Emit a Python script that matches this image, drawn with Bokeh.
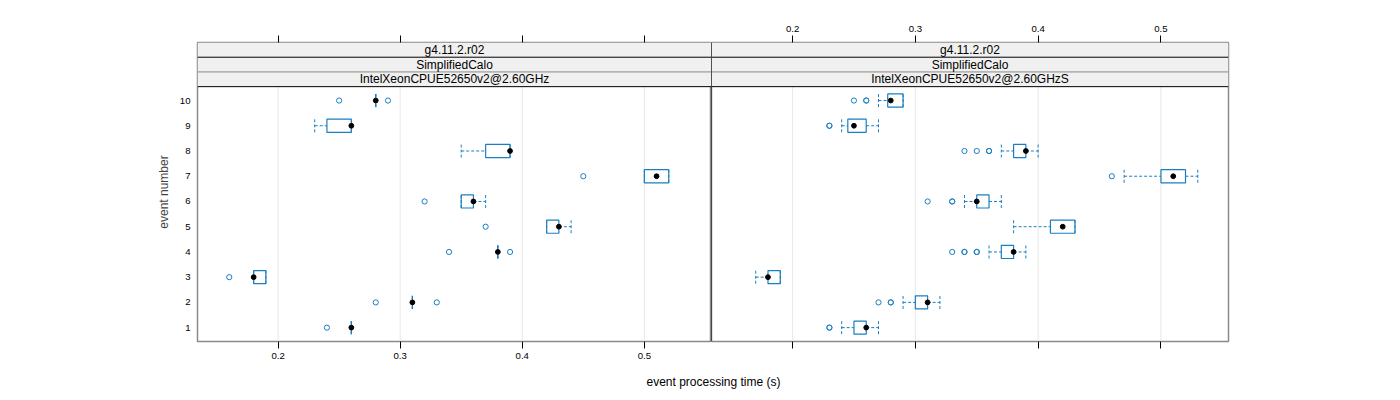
from bokeh.plotting import figure
from bokeh.layouts import column, row
from bokeh.models import Range1d, LinearAxis, FixedTicker, ColumnDataSource, Label, Span
from bokeh.embed import file_html
from bokeh.resources import INLINE
from bokeh.core.properties import value

# ---------------- data ----------------
events = [1, 2, 3, 4, 5, 6, 7, 8, 9, 10]
x_ticks = [0.2, 0.3, 0.4, 0.5]
strip_version = "g4.11.2.r02"
strip_test = "SimplifiedCalo"
strip_cpu = ["IntelXeonCPUE52650v2@2.60GHz", "IntelXeonCPUE52650v2@2.60GHzS"]

# left panel five-number summaries
left_lo  = [0.26, 0.31, 0.18, 0.38, 0.42, 0.35, 0.50, 0.35, 0.23, 0.28]
left_q1  = [0.26, 0.31, 0.18, 0.38, 0.42, 0.35, 0.50, 0.37, 0.24, 0.28]
left_med = [0.26, 0.31, 0.18, 0.38, 0.43, 0.36, 0.51, 0.39, 0.26, 0.28]
left_q3  = [0.26, 0.31, 0.19, 0.38, 0.43, 0.36, 0.52, 0.39, 0.26, 0.28]
left_hi  = [0.26, 0.31, 0.19, 0.38, 0.44, 0.37, 0.52, 0.39, 0.26, 0.28]
left_out_event = [1, 2, 2, 3, 4, 4, 5, 6, 7, 10, 10]
left_out_value = [0.24, 0.28, 0.33, 0.16, 0.34, 0.39, 0.37, 0.32, 0.45, 0.25, 0.29]

# right panel five-number summaries
right_lo  = [0.24, 0.29, 0.17, 0.36, 0.38, 0.34, 0.47, 0.37, 0.24, 0.27]
right_q1  = [0.25, 0.30, 0.18, 0.37, 0.41, 0.35, 0.50, 0.38, 0.245, 0.2775]
right_med = [0.26, 0.31, 0.18, 0.38, 0.42, 0.35, 0.51, 0.39, 0.25, 0.28]
right_q3  = [0.26, 0.31, 0.19, 0.38, 0.43, 0.36, 0.52, 0.39, 0.26, 0.29]
right_hi  = [0.27, 0.32, 0.19, 0.39, 0.43, 0.37, 0.53, 0.40, 0.27, 0.29]
right_out_event = [1, 1, 2, 2, 2, 4, 4, 4, 4, 4, 6, 6, 6, 7, 8, 8, 8, 8, 9, 9, 10, 10, 10]
right_out_value = [0.23, 0.23, 0.27, 0.28, 0.28, 0.33, 0.34, 0.34, 0.35, 0.35,
                   0.31, 0.33, 0.33, 0.46, 0.34, 0.35, 0.36, 0.36, 0.23, 0.23,
                   0.25, 0.26, 0.26]

# ---------------- style ----------------
BLUE = "#1a7fc1"
GRID = "#e8e8e8"
BORDER = "#8a8a8a"
STRIP_BG = "#f0f0f0"
FONT = "Liberation Sans"
XR = (0.134, 0.555)
YB, YDATA_TOP, YTOP = 0.45, 10.55, 12.3
HALF = 0.26
STRIP_H = (YTOP - YDATA_TOP) / 3.0


def make_panel(width, border_left, border_right, lo, q1, med, q3, hi, out_ev, out_val,
               cpu, left_axis, top_labels, bottom_labels):
    p = figure(width=width, height=366, x_range=Range1d(*XR), y_range=Range1d(YB, YTOP),
               output_backend="svg", toolbar_location=None,
               x_axis_type=None, y_axis_type=None,
               min_border_left=border_left, min_border_right=border_right,
               min_border_top=42, min_border_bottom=25)
    p.xgrid.visible = False
    p.ygrid.visible = False
    p.outline_line_color = BORDER
    p.outline_line_width = 1.5
    p.background_fill_color = "white"
    p.border_fill_color = "white"

    # grid lines inside data region
    p.segment(x0=x_ticks, x1=x_ticks, y0=[YB] * len(x_ticks), y1=[YDATA_TOP] * len(x_ticks),
              line_color=GRID, line_width=1)

    # strips
    n = 3
    bottoms = [YDATA_TOP + i * STRIP_H for i in range(n)]
    tops = [b + STRIP_H for b in bottoms]
    p.quad(left=[XR[0]] * n, right=[XR[1]] * n, bottom=bottoms, top=tops,
           fill_color=STRIP_BG, line_color=None)
    p.segment(x0=[XR[0]] * n, x1=[XR[1]] * n, y0=bottoms, y1=bottoms,
              line_color=["black", BORDER, "black"], line_width=1)
    mid = (XR[0] + XR[1]) / 2
    texts = [cpu, strip_test, strip_version]
    p.text(x=[mid] * n, y=[b + STRIP_H / 2 for b in bottoms], text=texts,
           text_align="center", text_baseline="middle",
           text_font=value(FONT), text_font_size="12px", text_color="black")

    src = ColumnDataSource(dict(ev=events, lo=lo, q1=q1, med=med, q3=q3, hi=hi,
                                bot=[e - HALF for e in events], top=[e + HALF for e in events]))
    # whiskers
    p.segment(x0="lo", x1="q1", y0="ev", y1="ev", source=src, line_color=BLUE,
              line_dash="3 2", line_width=1)
    p.segment(x0="q3", x1="hi", y0="ev", y1="ev", source=src, line_color=BLUE,
              line_dash="3 2", line_width=1)
    p.segment(x0="lo", x1="lo", y0="bot", y1="top", source=src, line_color=BLUE,
              line_dash="3 2", line_width=1)
    p.segment(x0="hi", x1="hi", y0="bot", y1="top", source=src, line_color=BLUE,
              line_dash="3 2", line_width=1)
    # boxes
    p.quad(left="q1", right="q3", bottom="bot", top="top", source=src,
           fill_color=None, line_color=BLUE, line_width=1.2)
    # outliers
    p.scatter(x=out_val, y=out_ev, marker="circle", size=5.2, fill_color=None,
              line_color=BLUE, line_width=1)
    # medians
    p.scatter(x="med", y="ev", source=src, marker="circle", size=4.8,
              fill_color="black", line_color="black")

    # axes
    top_ax = LinearAxis(ticker=FixedTicker(ticks=x_ticks))
    bot_ax = LinearAxis(ticker=FixedTicker(ticks=x_ticks))
    for ax, show in ((top_ax, top_labels), (bot_ax, bottom_labels)):
        ax.axis_line_color = None
        ax.major_tick_out = 7
        ax.major_tick_in = 0
        ax.minor_tick_line_color = None
        ax.major_tick_line_color = "black"
        ax.major_label_standoff = 4
        ax.major_label_text_font = FONT
        ax.major_label_text_font_size = "9.6px"
        ax.major_label_text_color = "black" if show else None
    p.add_layout(top_ax, "above")
    p.add_layout(bot_ax, "below")

    if left_axis:
        yax = LinearAxis(ticker=FixedTicker(ticks=events))
        yax.axis_line_color = None
        yax.major_tick_out = 0
        yax.major_tick_in = 0
        yax.minor_tick_line_color = None
        yax.major_label_standoff = 7
        yax.major_label_text_font = FONT
        yax.major_label_text_font_size = "9.6px"
        yax.major_label_text_color = "black"
        yax.axis_label = "event number"
        yax.axis_label_text_font = FONT
        yax.axis_label_text_font_size = "12px"
        yax.axis_label_text_font_style = "normal"
        yax.axis_label_standoff = 6
        p.add_layout(yax, "left")
    return p


p1 = make_panel(711, 197, 0, left_lo, left_q1, left_med, left_q3, left_hi,
                left_out_event, left_out_value, strip_cpu[0], True, False, True)
p2 = make_panel(689, 0, 172, right_lo, right_q1, right_med, right_q3, right_hi,
                right_out_event, right_out_value, strip_cpu[1], False, True, False)

p1.add_layout(Span(location=XR[1], dimension="height", line_color="black",
                   line_width=1, level="overlay"))
p2.add_layout(Span(location=XR[0], dimension="height", line_color="black",
                   line_width=1, level="overlay"))

p3 = figure(width=1400, height=34, x_range=Range1d(0, 1400), y_range=Range1d(0, 34),
            output_backend="svg", toolbar_location=None, x_axis_type=None, y_axis_type=None,
            min_border=0)
p3.outline_line_color = None
p3.xgrid.visible = False
p3.ygrid.visible = False
p3.add_layout(Label(x=713, y=19, text="event processing time (s)", text_align="center",
                    text_baseline="middle", text_font=FONT, text_font_size="12px",
                    text_color="black"))

layout = column(row(p1, p2, spacing=0), p3, spacing=0)
open("out.html", "w").write(file_html(layout, INLINE))
